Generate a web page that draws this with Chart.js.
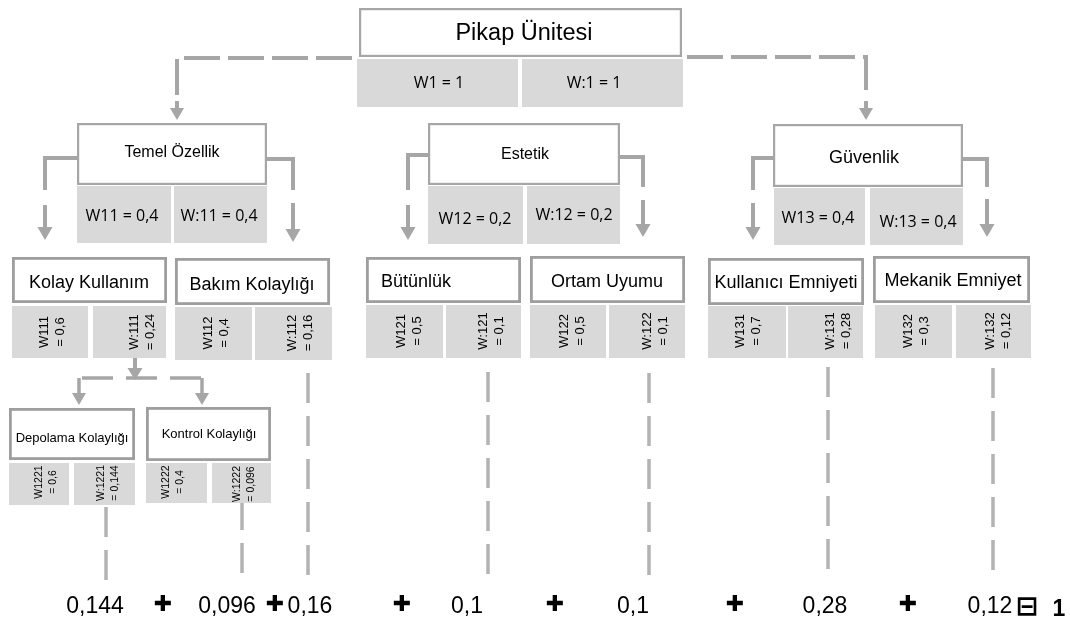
<!DOCTYPE html>
<html>
<head>
<meta charset="utf-8">
<script src="https://cdn.jsdelivr.net/npm/chart.js@4.4.1/dist/chart.umd.min.js"></script>
<style>
  html, body { margin: 0; padding: 0; background: #fff; }
  canvas { display: block; }
</style>
</head>
<body>
<canvas id="treeChart" width="1070" height="626"></canvas>
<script>
// hierarchy values
const nodeNames = ['Pikap Ünitesi', 'Temel Özellik', 'Estetik', 'Güvenlik',
  'Kolay Kullanım', 'Bakım Kolaylığı', 'Bütünlük', 'Ortam Uyumu',
  'Kullanıcı Emniyeti', 'Mekanik Emniyet', 'Depolama Kolaylığı', 'Kontrol Kolaylığı'];
const nodeCodes = ['1', '11', '12', '13', '111', '112', '121', '122', '131', '132', '1221', '1222'];
const localWeights = ['1', '0,4', '0,2', '0,4', '0,6', '0,4', '0,5', '0,5', '0,7', '0,3', '0,6', '0,4'];
const globalWeights = ['1', '0,4', '0,2', '0,4', '0,24', '0,16', '0,1', '0,1', '0,28', '0,12', '0,144', '0,096'];
const resultTerms = ['0,144', '0,096', '0,16', '0,1', '0,1', '0,28', '0,12'];
const resultTotal = '1';

// layout (value space of the x / y scales)
const nodeLayout = [
  { tier: 1, box: [359, 8, 682, 57], cells: [[357, 518], [522, 683]], cellY: [59, 107], t: [524, 34], cellText: [[439, 83], [594, 83]] },
  { tier: 2, box: [77, 123, 267, 185], cells: [[77, 171], [174, 267]], cellY: [186, 243], t: [172, 153], size: 16, cellText: [[122, 216], [219, 216]] },
  { tier: 2, box: [428, 123, 620, 185], cells: [[428, 523], [527, 620]], cellY: [186, 244], t: [525, 155], size: 16, cellText: [[475, 219], [574, 215]] },
  { tier: 2, box: [773, 124, 963, 187], cells: [[774, 865], [870, 963]], cellY: [188, 245], t: [864, 158], size: 18, cellText: [[818, 218], [918, 222]] },
  { tier: 3, box: [12, 257, 167, 303], cells: [[12, 88], [93, 166]], cellY: [306, 358], t: [89, 283], cellText: [[52, 332], [142, 332]] },
  { tier: 3, box: [175, 258, 330, 305], cells: [[175, 252], [255, 332]], cellY: [307, 360], t: [252, 285], cellText: [[216, 333], [300, 333]] },
  { tier: 3, box: [366, 257, 521, 303], cells: [[366, 443], [446, 521]], cellY: [305, 358], t: [381, 282], left: true, cellText: [[409, 331], [491, 331]] },
  { tier: 3, box: [530, 256, 685, 303], cells: [[530, 606], [609, 685]], cellY: [305, 358], t: [607, 282], cellText: [[572, 331], [655, 331]] },
  { tier: 3, box: [708, 258, 864, 305], cells: [[708, 786], [788, 863]], cellY: [306, 358], t: [786, 283], cellText: [[748, 331], [838, 331]] },
  { tier: 3, box: [873, 256, 1030, 303], cells: [[875, 952], [956, 1031]], cellY: [305, 358], t: [953, 281], cellText: [[916, 331], [998, 331]] },
  { tier: 4, box: [9, 408, 135, 460], cells: [[9, 69], [74, 135]], cellY: [463, 505], t: [72, 438], cellText: [[46, 482], [108, 483]] },
  { tier: 4, box: [146, 407, 271, 461], cells: [[146, 207], [212, 271]], cellY: [463, 503], t: [209, 434], cellText: [[173, 482], [244, 484]] }
];

const rootLinks = [
  { path: [[352, 58], [177, 58], [177, 95]], arrow: [177, 101, 120] },
  { path: [[687, 57], [866, 57], [866, 95]], arrow: [866, 101, 120] }
];
const sideLinks = [
  { path: [[77, 158], [45, 158], [45, 190]], arrow: [45, 205, 240] },
  { path: [[267, 159], [293, 159], [293, 190]], arrow: [293, 203, 242] },
  { path: [[428, 155], [408, 155], [408, 190]], arrow: [408, 205, 240] },
  { path: [[620, 157], [643, 157], [643, 187]], arrow: [643, 200, 237] },
  { path: [[773, 158], [753, 158], [753, 190]], arrow: [753, 203, 240] },
  { path: [[963, 159], [987, 159], [987, 187]], arrow: [987, 199, 237] }
];
const subLinks = { stem: [135, 358, 380], bar: [[82, 378], [202, 378]], arrows: [[79, 378, 405], [202, 378, 405]] };
const dropLines = [[106, 507, 583], [242, 500, 577], [308, 373, 580], [488, 372, 580], [649, 373, 577], [828, 367, 575], [993, 368, 575]];
const termX = [95, 227, 310, 467, 633, 825, 990];
const plusX = [163, 275, 402, 555, 735, 908];
const equalX = 1027;
const totalX = 1059;
const rowY = 613;

const lineGray = '#a6a6a6';
const cellGray = '#d9d9d9';

const treePlugin = {
  id: 'tree',
  afterDatasetsDraw(chart) {
    const ctx = chart.ctx;
    const sx = v => chart.scales.x.getPixelForValue(v);
    const sy = v => chart.scales.y.getPixelForValue(v);

    const polyline = (pts, width, color, dash) => {
      ctx.save();
      ctx.strokeStyle = color;
      ctx.lineWidth = width;
      ctx.lineCap = 'butt';
      ctx.lineJoin = 'miter';
      ctx.setLineDash(dash || []);
      ctx.beginPath();
      pts.forEach((p, i) => i ? ctx.lineTo(sx(p[0]), sy(p[1])) : ctx.moveTo(sx(p[0]), sy(p[1])));
      ctx.stroke();
      ctx.restore();
    };
    const arrow = (x, y0, tip, width, head, half) => {
      polyline([[x, y0], [x, tip - head + 1]], width, lineGray);
      ctx.save();
      ctx.fillStyle = lineGray;
      ctx.beginPath();
      ctx.moveTo(sx(x - half), sy(tip - head));
      ctx.lineTo(sx(x + half), sy(tip - head));
      ctx.lineTo(sx(x), sy(tip));
      ctx.closePath();
      ctx.fill();
      ctx.restore();
    };

    ctx.save();
    ctx.fillStyle = '#fff';
    ctx.fillRect(0, 0, chart.width, chart.height);
    ctx.restore();

    // connectors
    rootLinks.forEach(l => {
      polyline(l.path, 4, lineGray, [36, 8]);
      arrow(l.arrow[0], l.arrow[1], l.arrow[2], 4, 12, 7);
    });
    sideLinks.forEach(l => {
      polyline(l.path, 4, lineGray);
      arrow(l.arrow[0], l.arrow[1], l.arrow[2], 4, 13, 7.5);
    });
    arrow(subLinks.stem[0], subLinks.stem[1], subLinks.stem[2], 4, 12, 7.5);
    polyline(subLinks.bar, 3.5, lineGray, [31, 13]);
    subLinks.arrows.forEach(a => arrow(a[0], a[1], a[2], 3.5, 12, 7));
    dropLines.forEach(d => polyline([[d[0], d[1]], [d[0], d[2]]], 3.5, '#b3b3b3', [30, 13]));

    // nodes
    nodeLayout.forEach((n, i) => {
      const [bx0, by0, bx1, by1] = n.box;
      // weight cells
      ctx.fillStyle = cellGray;
      n.cells.forEach(c => {
        ctx.fillRect(sx(c[0]), sy(n.cellY[0]), sx(c[1]) - sx(c[0]), sy(n.cellY[1]) - sy(n.cellY[0]));
      });
      // title box
      const bw = n.tier >= 3 ? 2.8 : 2.2;
      ctx.fillStyle = '#fff';
      ctx.strokeStyle = n.tier >= 3 ? '#9e9e9e' : lineGray;
      ctx.lineWidth = bw;
      ctx.fillRect(sx(bx0), sy(by0), sx(bx1) - sx(bx0), sy(by1) - sy(by0));
      ctx.strokeRect(sx(bx0) + bw / 2, sy(by0) + bw / 2, sx(bx1) - sx(bx0) - bw, sy(by1) - sy(by0) - bw);

      // title text
      const titleSize = n.tier === 1 ? 23.5 : n.tier === 2 ? n.size : n.tier === 3 ? 18 : 13;
      ctx.fillStyle = '#000';
      ctx.font = titleSize + 'px "Liberation Sans", Arial, sans-serif';
      ctx.textAlign = n.left ? 'left' : 'center';
      ctx.textBaseline = 'middle';
      ctx.fillText(nodeNames[i], sx(n.t[0]), sy(n.t[1]));

      // weight texts
      const code = nodeCodes[i];
      if (n.tier <= 2) {
        ctx.font = '16px "Open Sans", sans-serif';
        ctx.textAlign = 'center';
        ctx.fillText('W' + code + ' = ' + localWeights[i], sx(n.cellText[0][0]), sy(n.cellText[0][1]));
        ctx.fillText('W:' + code + ' = ' + globalWeights[i], sx(n.cellText[1][0]), sy(n.cellText[1][1]));
      } else {
        const fs = n.tier === 3 ? 13 : 10.5;
        const gap = n.tier === 3 ? 16 : 14;
        const pairs = [['W' + code, '= ' + localWeights[i]], ['W:' + code, '= ' + globalWeights[i]]];
        pairs.forEach((lines, k) => {
          ctx.save();
          ctx.translate(sx(n.cellText[k][0]), sy(n.cellText[k][1]));
          ctx.rotate(-Math.PI / 2);
          ctx.font = fs + 'px "Liberation Sans", Arial, sans-serif';
          ctx.textAlign = 'center';
          ctx.textBaseline = 'middle';
          ctx.fillText(lines[0], 0, -gap / 2);
          ctx.fillText(lines[1], 0, gap / 2);
          ctx.restore();
        });
      }
    });

    // result row
    ctx.fillStyle = '#000';
    ctx.textAlign = 'center';
    ctx.textBaseline = 'alphabetic';
    ctx.font = '23px "Liberation Sans", Arial, sans-serif';
    resultTerms.forEach((t, i) => ctx.fillText(t, sx(termX[i]), sy(rowY)));
    ctx.font = '22px "DejaVu Sans", sans-serif';
    ctx.textBaseline = 'middle';
    plusX.forEach(x => ctx.fillText('\u271A', sx(x), sy(rowY - 8)));
    ctx.font = 'bold 27px "DejaVu Sans", sans-serif';
    ctx.fillText('\u229F', sx(equalX), sy(rowY - 5));
    ctx.textBaseline = 'alphabetic';
    ctx.font = 'bold 23px "Liberation Sans", Arial, sans-serif';
    ctx.fillText(resultTotal, sx(totalX), sy(rowY + 3));
  }
};

new Chart(document.getElementById('treeChart'), {
  type: 'scatter',
  data: { datasets: [{ data: [], pointRadius: 0 }] },
  options: {
    responsive: false,
    animation: false,
    devicePixelRatio: 1,
    layout: { padding: 0 },
    plugins: { legend: { display: false }, tooltip: { enabled: false } },
    scales: {
      x: { type: 'linear', min: 0, max: 1070, display: false },
      y: { type: 'linear', min: 0, max: 626, reverse: true, display: false }
    }
  },
  plugins: [treePlugin]
});
</script>
</body>
</html>
